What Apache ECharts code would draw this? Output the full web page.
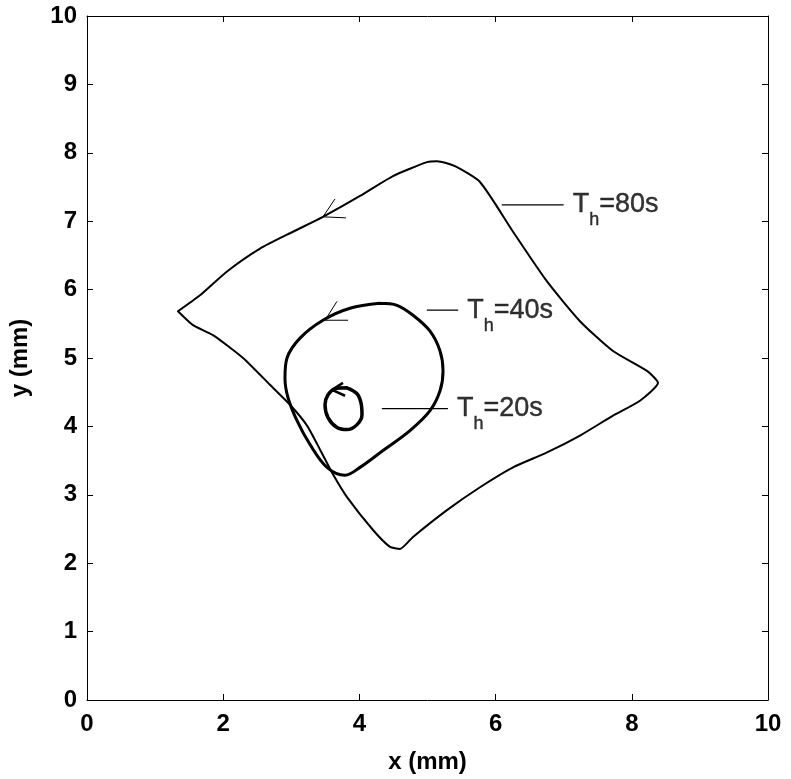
<!DOCTYPE html>
<html><head><meta charset="utf-8">
<script src="https://cdn.jsdelivr.net/npm/echarts@6/dist/echarts.min.js"></script>
<style>html,body{margin:0;padding:0;background:#fff}#c{width:791px;height:779px}</style>
</head><body><div id="c"></div>
<script>
// ---- data (mm) ----
const xAxisName = 'x (mm)';
const yAxisName = 'y (mm)';
const xRange = [0, 10], xStep = 2;
const yRange = [0, 10], yStep = 1;

// Th = 80 s trajectory
const loop80 = [
  [1.336,5.683],[1.557,5.480],[1.850,5.334],[2.291,5.000],[2.687,4.608],[2.981,4.317],
  [3.231,4.012],[3.421,3.663],[3.612,3.299],[3.818,2.965],[4.200,2.485],[4.449,2.238],
  [4.596,2.209],[4.787,2.384],[5.286,2.776],[5.771,3.110],[6.256,3.401],[6.755,3.619],
  [7.239,3.866],[7.724,4.157],[8.120,4.375],[8.385,4.637],[8.223,4.811],[7.724,5.102],
  [7.239,5.538],[6.755,6.119],[6.256,6.846],[5.771,7.573],[5.404,7.805],[5.140,7.878],
  [4.993,7.863],[4.493,7.660],[4.009,7.369],[3.465,7.064],[3.025,6.846],[2.540,6.599],
  [2.056,6.265],[1.659,5.916],[1.336,5.683]
];
// Th = 40 s trajectory
const loop40 = [
  [4.302,5.799],[3.862,5.727],[3.465,5.552],[3.128,5.291],[2.937,5.000],[2.907,4.709],
  [2.952,4.419],[3.084,4.084],[3.275,3.735],[3.524,3.401],[3.789,3.285],[4.009,3.401],
  [4.347,3.648],[4.743,3.939],[5.037,4.230],[5.184,4.520],[5.228,4.811],[5.184,5.102],
  [5.037,5.392],[4.787,5.625],[4.552,5.770],[4.302,5.799]
];
// Th = 20 s trajectory
const loop20 = [
  [3.818,4.564],[3.965,4.477],[4.023,4.346],[4.038,4.172],[3.965,4.026],[3.818,3.953],
  [3.671,3.983],[3.539,4.128],[3.495,4.317],[3.539,4.462],[3.642,4.549],[3.818,4.564]
];
// direction arrows: [barb, tip, barb]
const arrow80 = [[3.642,7.326],[3.465,7.064],[3.803,7.049]];
const arrow40 = [[3.671,5.828],[3.495,5.552],[3.833,5.552]];
const arrow20 = [[3.759,4.637],[3.598,4.535],[3.789,4.448]];
// label leader lines
const leader80 = [[6.09,7.24],[7.00,7.24]];
const leader40 = [[4.99,5.70],[5.45,5.70]];
const leader20 = [[4.33,4.26],[5.30,4.26]];
const labelTexts = ['80s','40s','20s'];

// ---- chart ----
const FONT = 'Liberation Sans, Arial, Helvetica, sans-serif';
const chart = echarts.init(document.getElementById('c'), null, {renderer:'canvas'});

function curve(data, w, s) {
  return {type:'line', data, xAxisIndex:0, yAxisIndex:0, showSymbol:false, symbol:'none',
    smooth:s, lineStyle:{color:'#000', width:w, join:'round', cap:'round'}, silent:true, animation:false, z:3};
}
function straight(data, w) {
  return {type:'line', data, xAxisIndex:0, yAxisIndex:0, showSymbol:false, symbol:'none',
    smooth:false, lineStyle:{color:'#000', width:w}, silent:true, animation:false, z:4};
}
function label(pt, txt) {
  const base = {fontFamily:FONT, color:'#000', textBorderColor:'#000', textBorderWidth:0.4, verticalAlign:'top'};
  return {type:'scatter', data:[pt], symbolSize:0, silent:true, animation:false, z:5,
    label:{show:true, position:'right', distance:9,
      formatter:'{t|T}{h|h}{t|=' + txt + '}',
      rich:{
        t:Object.assign({fontSize:27, lineHeight:27}, base),
        h:Object.assign({fontSize:18, lineHeight:18, padding:[20,0,0,0]}, base)
      }}};
}

const axisCommon = {
  type:'value', splitLine:{show:false},
  axisLine:{show:true, onZero:false, lineStyle:{color:'#000', width:1}},
  axisTick:{show:true, inside:true, length:6, lineStyle:{color:'#000', width:1}}
};

chart.setOption({
  backgroundColor:'#fff',
  animation:false,
  grid:{left:87, top:16, width:681, height:688, show:false},
  xAxis:[
    Object.assign({}, axisCommon, {min:xRange[0], max:xRange[1], interval:xStep, position:'bottom',
      name:xAxisName, nameLocation:'middle', nameGap:50,
      nameTextStyle:{fontFamily:FONT, fontSize:24, fontWeight:'bold', color:'#000'},
      axisLabel:{margin:12, fontFamily:FONT, fontSize:24, fontWeight:'bold', color:'#000'}}),
    Object.assign({}, axisCommon, {min:xRange[0], max:xRange[1], interval:xStep, position:'top',
      axisLabel:{show:false}})
  ],
  yAxis:[
    Object.assign({}, axisCommon, {min:yRange[0], max:yRange[1], interval:yStep, position:'left',
      name:yAxisName, nameLocation:'middle', nameGap:55, nameRotate:90,
      nameTextStyle:{fontFamily:FONT, fontSize:24, fontWeight:'bold', color:'#000'},
      axisLabel:{margin:10, fontFamily:FONT, fontSize:24, fontWeight:'bold', color:'#000'}}),
    Object.assign({}, axisCommon, {min:yRange[0], max:yRange[1], interval:yStep, position:'right',
      axisLabel:{show:false}})
  ],
  series:[
    curve(loop80, 2, 0.2),
    curve(loop40, 3, 0.35),
    curve(loop20, 3.5, 0.35),
    straight(arrow80, 1),
    straight(arrow40, 1),
    straight(arrow20, 2.5),
    straight(leader80, 1.2),
    straight(leader40, 1.2),
    straight(leader20, 1.2),
    label(leader80[1], labelTexts[0]),
    label(leader40[1], labelTexts[1]),
    label(leader20[1], labelTexts[2])
  ]
});
</script></body></html>
